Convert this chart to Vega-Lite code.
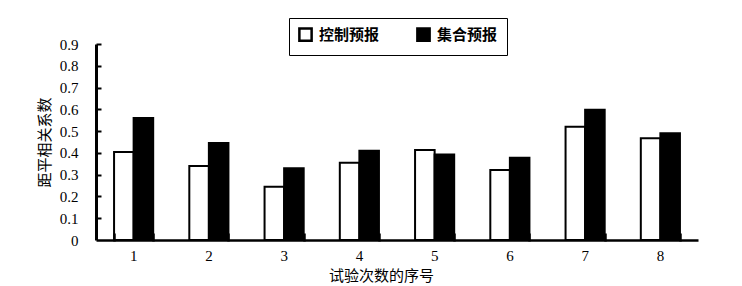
{
  "$schema": "https://vega.github.io/schema/vega-lite/v6.json",
  "width": 602,
  "height": 196,
  "autosize": {"type": "none"},
  "padding": {"left": 96, "top": 44, "right": 44, "bottom": 46},
  "background": "white",
  "data": {"values": [
    {"n": "1", "s": "控制预报", "v": 0.404}, {"n": "1", "s": "集合预报", "v": 0.56},
    {"n": "2", "s": "控制预报", "v": 0.34}, {"n": "2", "s": "集合预报", "v": 0.445},
    {"n": "3", "s": "控制预报", "v": 0.245}, {"n": "3", "s": "集合预报", "v": 0.33},
    {"n": "4", "s": "控制预报", "v": 0.355}, {"n": "4", "s": "集合预报", "v": 0.41},
    {"n": "5", "s": "控制预报", "v": 0.413}, {"n": "5", "s": "集合预报", "v": 0.393},
    {"n": "6", "s": "控制预报", "v": 0.322}, {"n": "6", "s": "集合预报", "v": 0.378},
    {"n": "7", "s": "控制预报", "v": 0.52}, {"n": "7", "s": "集合预报", "v": 0.598},
    {"n": "8", "s": "控制预报", "v": 0.467}, {"n": "8", "s": "集合预报", "v": 0.49}
  ]},
  "layer": [
    {
      "mark": {"type": "bar", "stroke": "black", "strokeWidth": 2},
      "encoding": {
        "x": {
          "field": "n", "type": "nominal",
          "scale": {"paddingInner": 0.48, "paddingOuter": 0.24},
          "axis": {
            "orient": "bottom",
            "title": "试验次数的序号", "titleFont": "Noto Sans CJK SC", "titleFontSize": 15, "titleFontWeight": "normal", "titleColor": "black", "titlePadding": 5, "titleX": 285,
            "labelAngle": 0, "labelFont": "Liberation Serif", "labelFontSize": 15, "labelColor": "black", "labelPadding": 8,
            "domainColor": "black", "domainWidth": 2.5, "ticks": false, "grid": false
          }
        },
        "xOffset": {"field": "s", "type": "nominal", "scale": {"domain": ["控制预报", "集合预报"], "paddingInner": 0}},
        "y": {
          "field": "v", "type": "quantitative",
          "scale": {"domain": [0, 0.9], "nice": false},
          "axis": {
            "orient": "left",
            "title": "距平相关系数", "titleFont": "Noto Sans CJK SC", "titleFontSize": 15, "titleFontWeight": "normal", "titleColor": "black", "titlePadding": 7,
            "values": [0, 0.1, 0.2, 0.3, 0.4, 0.5, 0.6, 0.7, 0.8, 0.9],
            "labelExpr": "datum.value == 0 ? '0' : format(datum.value, '.1f')",
            "labelFont": "Liberation Serif", "labelFontSize": 15, "labelColor": "black", "labelPadding": 18,
            "domainColor": "black", "domainWidth": 3, "ticks": false, "grid": false
          }
        },
        "fill": {
          "field": "s", "type": "nominal",
          "scale": {"domain": ["控制预报", "集合预报"], "range": ["white", "black"]},
          "legend": {
            "title": null, "orient": "none", "direction": "horizontal", "legendX": 193, "legendY": -26,
            "strokeColor": "black", "fillColor": "white", "padding": 9, "cornerRadius": 0,
            "symbolType": "square", "symbolSize": 150, "symbolStrokeColor": "black", "symbolStrokeWidth": 2.5,
            "labelFont": "Noto Sans CJK SC", "labelFontSize": 15, "labelFontWeight": "bold", "labelColor": "black", "labelOffset": 6,
            "columnPadding": 32
          }
        }
      }
    },
    {
      "mark": {"type": "bar", "opacity": 0},
      "encoding": {
        "x": {
          "field": "n", "type": "nominal",
          "axis": {
            "orient": "bottom", "offset": -7, "zindex": 1,
            "values": ["1", "2", "3", "4", "5", "6", "7", "8"],
            "title": null, "labels": false, "domain": false, "grid": false,
            "ticks": true, "tickColor": "black", "tickWidth": 2.5, "tickSize": 8, "tickBand": "extent", "tickOpacity": 1
          }
        },
        "y": {
          "field": "v", "type": "quantitative",
          "axis": {
            "orient": "left", "offset": -5, "zindex": 1,
            "title": null, "labels": false, "domain": false, "grid": false,
            "values": [0.1, 0.2, 0.3, 0.4, 0.5, 0.6, 0.7, 0.8, 0.9],
            "ticks": true, "tickColor": "black", "tickWidth": 2, "tickSize": 5
          }
        }
      }
    }
  ],
  "resolve": {"axis": {"x": "independent", "y": "independent"}},
  "config": {"view": {"stroke": null}}
}
